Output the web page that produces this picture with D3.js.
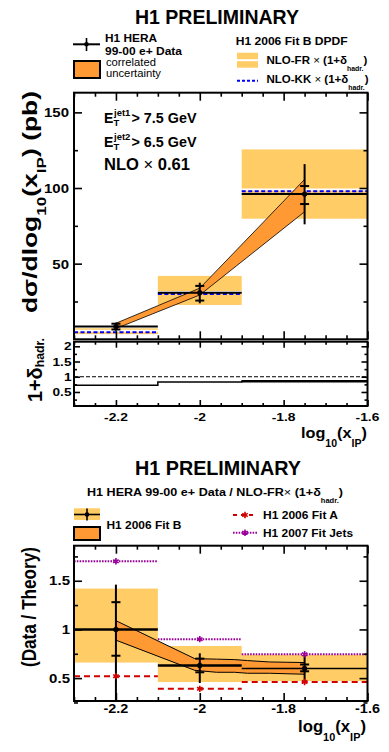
<!DOCTYPE html>
<html><head><meta charset="utf-8">
<script src="https://cdn.jsdelivr.net/npm/d3@7"></script>
<style>body{margin:0;background:#fff}svg{display:block}text{font-family:"Liberation Sans",Arial,Helvetica,sans-serif}</style>
</head><body><svg id="c" width="389" height="752"></svg>
<script>
// ---------------- data ----------------
const binLo = [-2.3, -2.1, -1.9];
const binHi = [-2.1, -1.9, -1.6];
const binCenters = [-2.2, -2.0, -1.75];
// cross section (pb)
const xsData   = [8.4, 30.8, 96.0];
const xsStatUp = [10.3, 35.3, 101.3];
const xsStatLo = [6.5, 25.6, 89.4];
const xsTotUp  = [11.0, 37.4, 115.8];
const xsTotLo  = [5.7, 23.8, 76.0];
const xsCorrUp = [10.6, 33.8, 105.7];
const xsCorrLo = [7.1, 29.3, 84.3];
const nloFR    = [5.6, 31.3, 99.0];
const nloFRUp  = [7.3, 41.9, 125.5];
const nloFRLo  = [3.4, 22.7, 79.7];
const nloKK    = [4.6, 29.9, 97.8];
const hadrCorr = [0.72, 0.83, 0.85];
// ratio data / theory
const rData   = [1.0, 0.63, 0.60];
const rStatUp = [1.28, 0.70, 0.64];
const rStatLo = [0.73, 0.56, 0.57];
const rTotUp  = [1.46, 0.755, 0.74];
const rTotLo  = [0.27, 0.45, 0.45];
const rBandUp = [1.42, 0.83, 0.74];
const rBandLo = [0.66, 0.46, 0.47];
const rCorrX  = [-2.2, -2.012, -1.96, -1.917, -1.886, -1.834, -1.794, -1.75];
const rCorrUp = [1.09, 0.70, 0.695, 0.69, 0.68, 0.666, 0.663, 0.66];
const rCorrLo = [0.89, 0.58, 0.56, 0.56, 0.55, 0.55, 0.545, 0.54];
const rFitA    = [0.52, 0.39, 0.46];
const rFitJets = [1.70, 0.90, 0.745];
// ticks
const xMajor = [-2.2, -2.0, -1.8, -1.6];
const xMajorLabels = ["-2.2", "-2", "-1.8", "-1.6"];
const xMinor = d3.range(0, 15).map(i => -2.3 + i * 0.05);
const yTopMajor = [50, 100, 150];
const yTopMinor = [25, 75, 125];
const yHMajor = [0.5, 1, 1.5, 2];
const yHMajorLabels = ["0.5", "1", "1.5", "2"];
const yHMinor = [0.25, 0.75, 1.25, 1.75];
const yRMajor = [0.5, 1, 1.5];
const yRMajorLabels = ["0.5", "1", "1.5"];
const yRMinor = [0.25, 0.75, 1.25, 1.75];

const C_LIGHT = "#ffcc66", C_DARK = "#ff9933", C_BLUE = "#0000ff", C_RED = "#d00000", C_PURP = "#990099";

const svg = d3.select("#c");
const x  = d3.scaleLinear().domain([-2.3, -1.6]).range([74, 367.5]);
const yT = d3.scaleLinear().domain([0, 163]).range([339.3, 92.7]);
const yH = d3.scaleLinear().domain([0.04, 2.15]).range([406, 341.7]);
const yR = d3.scaleLinear().domain([0.265, 1.86]).range([701, 545.7]);

function txt(g, px, py, parts, size, o = {}) {
  const t = g.append("text").attr("x", px).attr("y", py).attr("font-size", size)
    .attr("font-weight", o.weight || "bold").attr("text-anchor", o.anchor || "start");
  if (o.transform) t.attr("transform", o.transform);
  let cur = 0;
  parts.forEach(p => {
    const [s, m] = typeof p === "string" ? [p, ""] : p;
    const tgt = m === "sub" ? size * (o.subShift || 0.5) : m === "sup" ? -size * 0.45 : 0;
    const ts = t.append("tspan").text(s).attr("dy", tgt - cur);
    if (m === "sub" || m === "sup") ts.attr("font-size", size * (o.subScale || 0.65));
    if (m === "n") ts.attr("font-weight", "normal");
    cur = tgt;
  });
  if (o.len) t.attr("textLength", o.len).attr("lengthAdjust", "spacingAndGlyphs");
  if (o.stretch) { const L = t.node().getComputedTextLength(); t.attr("textLength", L * o.stretch).attr("lengthAdjust", "spacingAndGlyphs"); }
  return t;
}

function frame(y, yMaj, yMin, majLen, minLen) {
  const [x0, x1] = x.range(); const [yb, yt] = y.range();
  const g = svg.append("g");
  const add = (axis, tr) => {
    const a = g.append("g").attr("transform", tr).call(axis);
    a.select(".domain").remove();
    a.selectAll("line").attr("stroke", "#000").attr("stroke-width", 1.6);
  };
  const xm = xMinor.filter(v => !xMajor.some(M => Math.abs(M - v) < 1e-6));
  add(d3.axisBottom(x).tickValues(xm).tickSize(-minLen).tickFormat(""), `translate(0,${yb})`);
  add(d3.axisBottom(x).tickValues(xMajor).tickSize(-majLen).tickFormat(""), `translate(0,${yb})`);
  add(d3.axisTop(x).tickValues(xm).tickSize(-minLen).tickFormat(""), `translate(0,${yt})`);
  add(d3.axisTop(x).tickValues(xMajor).tickSize(-majLen).tickFormat(""), `translate(0,${yt})`);
  add(d3.axisLeft(y).tickValues(yMin).tickSize(-minLen).tickFormat(""), `translate(${x0},0)`);
  add(d3.axisLeft(y).tickValues(yMaj).tickSize(-majLen).tickFormat(""), `translate(${x0},0)`);
  add(d3.axisRight(y).tickValues(yMin).tickSize(-minLen).tickFormat(""), `translate(${x1},0)`);
  add(d3.axisRight(y).tickValues(yMaj).tickSize(-majLen).tickFormat(""), `translate(${x1},0)`);
  g.append("rect").attr("x", x0).attr("y", yt).attr("width", x1 - x0).attr("height", yb - yt)
    .attr("fill", "none").attr("stroke", "#000").attr("stroke-width", 2);
}

function star(g, px, py, color) {
  g.append("path").attr("d", d3.symbol(d3.symbolAsterisk, 28)())
    .attr("transform", `translate(${px},${py})`).attr("fill", "none").attr("stroke", color).attr("stroke-width", 1.6);
}

function errBar(g, y, i, c, up, lo, sUp, sLo) {
  const cx = x(binCenters[i]);
  g.append("line").attr("x1", cx).attr("x2", cx).attr("y1", y(up[i])).attr("y2", y(lo[i]))
    .attr("stroke", "#000").attr("stroke-width", 2);
  [sUp[i], sLo[i]].forEach(v => g.append("line").attr("x1", cx - 4.5).attr("x2", cx + 4.5)
    .attr("y1", y(v)).attr("y2", y(v)).attr("stroke", "#000").attr("stroke-width", 2));
  g.append("circle").attr("cx", cx).attr("cy", y(c[i])).attr("r", 2.6).attr("fill", "#000");
}

// ---------------- TOP PANEL ----------------
const gT = svg.append("g");
binLo.forEach((b, i) => {
  gT.append("rect").attr("x", x(binLo[i])).attr("width", x(binHi[i]) - x(binLo[i]))
    .attr("y", yT(nloFRUp[i])).attr("height", yT(nloFRLo[i]) - yT(nloFRUp[i])).attr("fill", C_LIGHT);
  gT.append("line").attr("x1", x(binLo[i])).attr("x2", x(binHi[i])).attr("y1", yT(nloFR[i])).attr("y2", yT(nloFR[i]))
    .attr("stroke", "#fff").attr("stroke-width", 2);
  gT.append("line").attr("x1", x(binLo[i])).attr("x2", x(binHi[i])).attr("y1", yT(nloKK[i])).attr("y2", yT(nloKK[i]))
    .attr("stroke", C_BLUE).attr("stroke-width", 2).attr("stroke-dasharray", "4,2.5");
});
const areaT = d3.area().x((d, i) => x(binCenters[i])).y0((d, i) => yT(xsCorrLo[i])).y1((d, i) => yT(xsCorrUp[i]));
gT.append("path").attr("d", areaT(binCenters)).attr("fill", C_DARK).attr("stroke", "#000").attr("stroke-width", 0.8);
binLo.forEach((b, i) => {
  gT.append("line").attr("x1", x(binLo[i])).attr("x2", x(binHi[i])).attr("y1", yT(xsData[i])).attr("y2", yT(xsData[i]))
    .attr("stroke", "#000").attr("stroke-width", 2);
  errBar(gT, yT, i, xsData, xsTotUp, xsTotLo, xsStatUp, xsStatLo);
});
frame(yT, yTopMajor, yTopMinor, 8, 4);
yTopMajor.forEach(v => txt(svg, 69, yT(v) + 5, [String(v)], 13, { anchor: "end", stretch: 1.15 }));

// inner labels
txt(svg, 104, 123.3, ["E"], 14);
txt(svg, 114, 116, ["jet1"], 9.5);
txt(svg, 113.5, 125.5, ["T"], 9.5);
txt(svg, 131.5, 123.3, ["> 7.5 GeV"], 14, { len: 65 });
txt(svg, 104, 147.3, ["E"], 14);
txt(svg, 114, 140, ["jet2"], 9.5);
txt(svg, 113.5, 149.5, ["T"], 9.5);
txt(svg, 131.5, 147.3, ["> 6.5 GeV"], 14, { len: 65 });
txt(svg, 104, 169.5, ["NLO ", ["×", "n"], " 0.61"], 16.5, { len: 86 });

// y label top
txt(svg, 0, 0, ["dσ/dlog", ["10", "sub"], "(x", ["IP", "sub"], ") (pb)"], 21,
  { anchor: "middle", transform: "translate(37,202) rotate(-90)", len: 222, subShift: 0.45 });

// ---------------- HADR PANEL ----------------
const gH = svg.append("g");
gH.append("line").attr("x1", x(-2.3)).attr("x2", x(-1.6)).attr("y1", yH(1)).attr("y2", yH(1))
  .attr("stroke", "#000").attr("stroke-width", 1).attr("stroke-dasharray", "4,2");
const stepPts = binLo.map((b, i) => [b, hadrCorr[i]]).concat([[-1.6, hadrCorr[2]]]);
gH.append("path").attr("d", d3.line().x(d => x(d[0])).y(d => yH(d[1])).curve(d3.curveStepAfter)(stepPts))
  .attr("fill", "none").attr("stroke", "#000").attr("stroke-width", 1.5);
gH.append("line").attr("x1", x(binLo[2])).attr("x2", x(binHi[2])).attr("y1", yH(hadrCorr[2])).attr("y2", yH(hadrCorr[2]))
  .attr("stroke", "#000").attr("stroke-width", 2.5);
frame(yH, yHMajor, yHMinor, 6, 3);
yHMajor.forEach((v, i) => txt(svg, 71.5, yH(v) + 4, [yHMajorLabels[i]], 10.5, { anchor: "end", stretch: 1.3 }));
txt(svg, 0, 0, ["1+δ", ["hadr.", "sub"]], 20,
  { anchor: "middle", transform: "translate(42,370) rotate(-90)", len: 64, subShift: 0.1, subScale: 0.62 });
xMajor.forEach((v, i) => txt(svg, x(v), 420.5, [xMajorLabels[i]], 11.5, { anchor: "middle", stretch: 1.2 }));
txt(svg, 367, 437.5, ["log", ["10", "sub"], "(x", ["IP", "sub"], ")"], 15.5, { anchor: "end", subShift: 0.6, len: 66 });

// ---------------- legend top ----------------
txt(svg, 217, 24, ["H1 PRELIMINARY"], 19.5, { anchor: "middle", len: 164 });
svg.append("line").attr("x1", 73).attr("x2", 100).attr("y1", 44.3).attr("y2", 44.3).attr("stroke", "#000").attr("stroke-width", 2);
svg.append("line").attr("x1", 86.5).attr("x2", 86.5).attr("y1", 38).attr("y2", 51).attr("stroke", "#000").attr("stroke-width", 1.6);
svg.append("circle").attr("cx", 86.5).attr("cy", 44.3).attr("r", 2.3);
txt(svg, 105, 42, ["H1 HERA"], 11, { len: 52 });
txt(svg, 105, 54.5, ["99-00 e+ Data"], 11.5, { len: 77 });
svg.append("rect").attr("x", 74).attr("y", 61).attr("width", 26).attr("height", 17).attr("fill", C_DARK).attr("stroke", "#000").attr("stroke-width", 2);
txt(svg, 106, 66, ["correlated"], 10.5, { weight: "normal", len: 50 });
txt(svg, 106, 76.5, ["uncertainty"], 10.5, { weight: "normal", len: 55 });

txt(svg, 235.7, 45.3, ["H1 2006 Fit B DPDF"], 11.5, { len: 112 });
svg.append("rect").attr("x", 237).attr("y", 52.7).attr("width", 21).attr("height", 15).attr("fill", C_LIGHT);
svg.append("line").attr("x1", 237).attr("x2", 258).attr("y1", 60.2).attr("y2", 60.2).attr("stroke", "#fff").attr("stroke-width", 2);
txt(svg, 266.5, 64, ["NLO-FR ", ["×", "n"], " (1+δ", ["hadr.", "sub"], ")"], 11.5, { subShift: 0.6, subScale: 0.6 });
svg.append("line").attr("x1", 237).attr("x2", 258).attr("y1", 80.7).attr("y2", 80.7).attr("stroke", C_BLUE).attr("stroke-width", 2).attr("stroke-dasharray", "3,2");
txt(svg, 266.5, 83, ["NLO-KK ", ["×", "n"], " (1+δ", ["hadr.", "sub"], ")"], 11.5, { subShift: 0.6, subScale: 0.6 });

// ---------------- RATIO PANEL ----------------
const gR = svg.append("g");
binLo.forEach((b, i) => {
  gR.append("rect").attr("x", x(binLo[i])).attr("width", x(binHi[i]) - x(binLo[i]))
    .attr("y", yR(rBandUp[i])).attr("height", yR(rBandLo[i]) - yR(rBandUp[i])).attr("fill", C_LIGHT);
});
const areaR = d3.area().x((d, i) => x(rCorrX[i])).y0((d, i) => yR(rCorrLo[i])).y1((d, i) => yR(rCorrUp[i]));
gR.append("path").attr("d", areaR(rCorrX)).attr("fill", C_DARK).attr("stroke", "#000").attr("stroke-width", 1);
binLo.forEach((b, i) => {
  gR.append("line").attr("x1", x(binLo[i])).attr("x2", x(binHi[i])).attr("y1", yR(rData[i])).attr("y2", yR(rData[i]))
    .attr("stroke", "#000").attr("stroke-width", i === 2 ? 1.5 : 2.5);
  errBar(gR, yR, i, rData, rTotUp, rTotLo, rStatUp, rStatLo);
  gR.append("line").attr("x1", x(binLo[i])).attr("x2", x(binHi[i])).attr("y1", yR(rFitA[i])).attr("y2", yR(rFitA[i]))
    .attr("stroke", C_RED).attr("stroke-width", 2).attr("stroke-dasharray", "6,4");
  star(gR, x(binCenters[i]), yR(rFitA[i]), C_RED);
  gR.append("line").attr("x1", x(binLo[i])).attr("x2", x(binHi[i])).attr("y1", yR(rFitJets[i])).attr("y2", yR(rFitJets[i]))
    .attr("stroke", C_PURP).attr("stroke-width", 2).attr("stroke-dasharray", "1.6,1.2");
  star(gR, x(binCenters[i]), yR(rFitJets[i]), C_PURP);
});
frame(yR, yRMajor, yRMinor, 8, 4);
yRMajor.forEach((v, i) => txt(svg, 70, yR(v) + 4.5, [yRMajorLabels[i]], 12.5, { anchor: "end", stretch: 1.2 }));
xMajor.forEach((v, i) => txt(svg, x(v), 712.7, [xMajorLabels[i]], 12, { anchor: "middle", stretch: 1.2 }));
txt(svg, 366, 731.5, ["log", ["10", "sub"], "(x", ["IP", "sub"], ")"], 16.5, { anchor: "end", subShift: 0.6, len: 68 });
txt(svg, 0, 0, ["(Data / Theory)"], 20, { anchor: "middle", transform: "translate(36,607) rotate(-90)", len: 120 });

// legend bottom
txt(svg, 218, 475, ["H1 PRELIMINARY"], 19.5, { anchor: "middle", len: 166 });
txt(svg, 87, 496, ["H1 HERA 99-00 e+ Data / NLO-FR", ["×", "n"], " (1+δ", ["hadr.", "sub"], ")"], 11.5, { subShift: 0.6, subScale: 0.6, len: 256 });
svg.append("rect").attr("x", 74).attr("y", 508.3).attr("width", 26).attr("height", 11.7).attr("fill", C_LIGHT);
svg.append("line").attr("x1", 74).attr("x2", 100).attr("y1", 514.5).attr("y2", 514.5).attr("stroke", "#000").attr("stroke-width", 1.6);
svg.append("line").attr("x1", 87).attr("x2", 87).attr("y1", 508.5).attr("y2", 520.5).attr("stroke", "#000").attr("stroke-width", 1.6);
svg.append("circle").attr("cx", 87).attr("cy", 514.5).attr("r", 2.3);
svg.append("rect").attr("x", 74).attr("y", 527).attr("width", 26).attr("height", 13).attr("fill", C_DARK).attr("stroke", "#000").attr("stroke-width", 2);
txt(svg, 106.5, 529, ["H1 2006 Fit B"], 11.5, { len: 75 });
svg.append("line").attr("x1", 233).attr("x2", 257).attr("y1", 515).attr("y2", 515).attr("stroke", C_RED).attr("stroke-width", 2).attr("stroke-dasharray", "4,4");
star(svg, 245, 515, C_RED);
txt(svg, 263, 518.5, ["H1 2006 Fit A"], 11.5, { len: 75 });
svg.append("line").attr("x1", 233).attr("x2", 257).attr("y1", 532.7).attr("y2", 532.7).attr("stroke", C_PURP).attr("stroke-width", 2).attr("stroke-dasharray", "1.6,1.2");
star(svg, 245, 532.7, C_PURP);
txt(svg, 263, 536.5, ["H1 2007 Fit Jets"], 11.5, { len: 90 });
</script></body></html>
